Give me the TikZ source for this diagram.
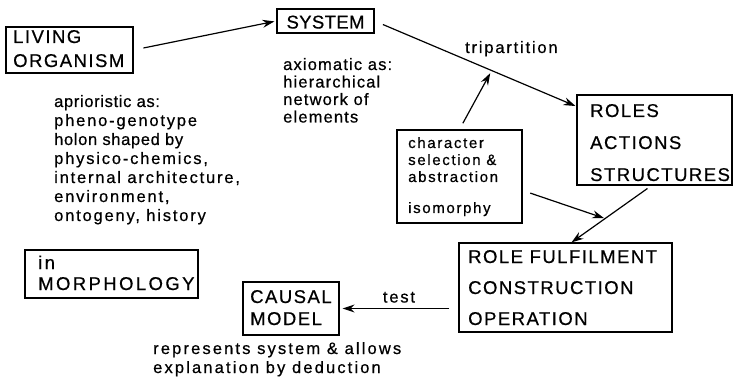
\documentclass[tikz,border=0pt]{standalone}
\usepackage{fontspec}
\setmainfont[FakeBold=0.6]{Liberation Sans}
% letter-spaced cuts of the same face
\newfontfamily\capsf[LetterSpace=8,FakeBold=0.6]{Liberation Sans}
\newfontfamily\capsw[LetterSpace=13,FakeBold=0.6]{Liberation Sans}
\newfontfamily\capsn[LetterSpace=2,FakeBold=0.6]{Liberation Sans}
\newfontfamily\lowa[LetterSpace=4,FakeBold=0.6]{Liberation Sans}
\newfontfamily\lowb[LetterSpace=11,FakeBold=0.6]{Liberation Sans}
\newfontfamily\lowc[LetterSpace=7,FakeBold=0.6]{Liberation Sans}
\newfontfamily\lowd[LetterSpace=13,FakeBold=0.6]{Liberation Sans}
\newfontfamily\smallf[LetterSpace=11,FakeBold=0.6]{Liberation Sans}
\usetikzlibrary{arrows.meta,calc}
\newcommand\stack[1]{\begin{tabular}[t]{@{}l@{}}#1\end{tabular}}

\begin{document}
\begin{tikzpicture}[x=1pt,y=-1pt,
  box/.style={draw, line width=1.2pt, rectangle, inner sep=0pt},
  caps/.style={font={\capsf\fontsize{18.5}{#1}\selectfont}, inner sep=0pt, anchor=base west},
  lowt/.style={font={\fontsize{16.5}{#1}\selectfont}, inner sep=0pt, anchor=base west},
  smallt/.style={font={\smallf\fontsize{15}{#1}\selectfont}, inner sep=0pt, anchor=base west},
  arr/.style={-{Stealth[length=12pt,width=8pt,inset=4pt]}, line width=1.2pt}]
\useasboundingbox (0,0) rectangle (733,382);

% boxes
\node[box, minimum width=127pt, minimum height=46pt] (living) at (69.5,50) {};
\node[box, minimum width=97pt, minimum height=24pt] (system) at (325.5,21) {};
\node[box, minimum width=155pt, minimum height=90pt] (roles) at (654.5,140) {};
\node[box, minimum width=125pt, minimum height=93pt] (charbox) at (459.5,176.5) {};
\node[box, minimum width=213pt, minimum height=89pt] (rolef) at (565.5,287.5) {};
\node[box, minimum width=96pt, minimum height=53pt] (causal) at (291,308.5) {};
\node[box, minimum width=173pt, minimum height=48pt] (morph) at (111.5,274) {};

% box texts
\node[caps=24] (livingT) at (13,43) {\stack{LIVING\\ORGANISM}};
\node[caps=24, font={\capsn\fontsize{18.5}{24}\selectfont}, anchor=base] (systemT) at (325.5,28.5) {SYSTEM};
\node[caps=32] (rolesT) at (590,117) {\stack{ROLES\\ACTIONS\\STRUCTURES}};
\node[smallt=17] (charT) at (408,148) {\stack{character\\selection \&\\abstraction\\[14pt]isomorphy}};
\node[caps=31] (rolefT) at (468,263) {\stack{ROLE FULFILMENT\\CONSTRUCTION\\OPERATION}};
\node[caps=22] (causalT) at (250,303) {\stack{CAUSAL\\MODEL}};
\node[caps=21, font={\capsw\fontsize{18.5}{21}\selectfont}] (morphT) at (38,269) {\stack{in\\MORPHOLOGY}};

% free texts
\node[lowt=19] (aprioriT) at (54,107) {\stack{\lowa aprioristic as:\\
  \lowb pheno-genotype\\
  \lowa holon shaped by\\
  \lowb physico-chemics,\\
  \lowb internal architecture,\\
  \lowb environment,\\
  \lowb ontogeny, history}};
\node[lowt=17.5, font={\lowc\fontsize{16.5}{17.5}\selectfont}] (axiomT) at (283,70)
  {\stack{axiomatic as:\\hierarchical\\network of\\elements}};
\node[lowt=19, font={\lowb\fontsize{16.5}{19}\selectfont}] (tripT) at (465,53) {tripartition};
\node[lowt=19, font={\lowd\fontsize{16.5}{19}\selectfont}] (reprT) at (153,354)
  {\stack{represents system \& allows\\explanation by deduction}};

% connectors
\draw[arr, shorten <=10pt, shorten >=2pt] (living.east) -- (system.west);
\draw[arr, shorten <=9pt, shorten >=1pt] (system.east) -- coordinate[pos=.58] (tri) ([yshift=-12pt]roles.north west);
\draw[arr, shorten <=7pt, shorten >=3pt] (charbox.north) -- (tri);
\draw[arr, shorten <=5pt] ([xshift=-3pt]roles.south) -- coordinate[pos=.58] (meet) ([xshift=6pt]rolef.north);
\draw[arr, shorten <=8pt, shorten >=1pt] ([yshift=-14pt]charbox.east) -- (meet);
\draw[arr, shorten <=9pt, shorten >=3pt] (rolef.west |- causal.east) --
  node[midway, anchor=base, yshift=6pt, inner sep=0pt, font={\lowb\fontsize{16.5}{19}\selectfont}] (testT) {test} (causal.east);
\end{tikzpicture}
\end{document}
